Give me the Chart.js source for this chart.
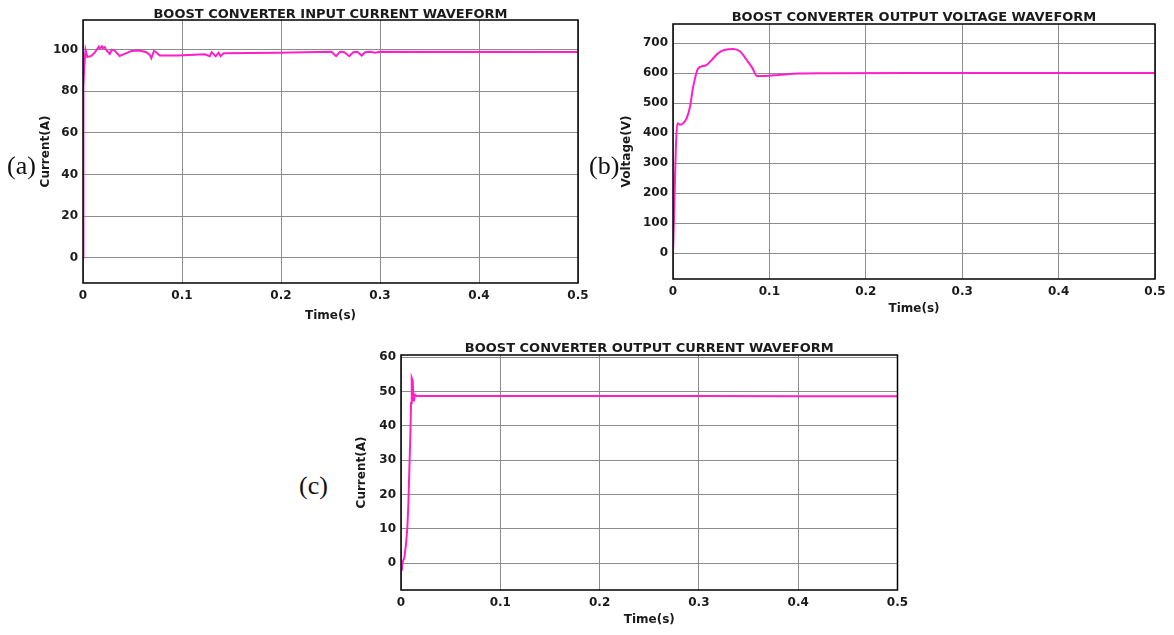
<!DOCTYPE html>
<html>
<head>
<meta charset="utf-8">
<script src="https://cdn.jsdelivr.net/npm/chart.js@4/dist/chart.umd.min.js"></script>
<style>
  body { margin: 0; background: #fff; width: 1174px; height: 635px; position: relative; overflow: hidden; }
  canvas { position: absolute; }
  .tag { position: absolute; font-family: 'Liberation Serif', serif; font-size: 26px; color: #111; line-height: 1; }
</style>
</head>
<body>
<canvas id="chartA" width="600" height="325" style="left:0;top:0;width:600px;height:325px"></canvas>
<canvas id="chartB" width="584" height="316" style="left:590px;top:0;width:584px;height:316px"></canvas>
<canvas id="chartC" width="588" height="297" style="left:330px;top:330px;width:588px;height:297px"></canvas>
<div class="tag" style="left:7px;top:153px">(a)</div>
<div class="tag" style="left:589px;top:153px">(b)</div>
<div class="tag" style="left:299px;top:473px">(c)</div>
<script>
// shared x ticks
const timeTicks = [0, 0.1, 0.2, 0.3, 0.4, 0.5];

// (a) input current
const timeA = [0, 0.0004, 0.0012, 0.0025, 0.0044, 0.0084, 0.0118, 0.015, 0.016, 0.017, 0.018, 0.019, 0.020,
    0.021, 0.022, 0.023, 0.024, 0.027, 0.029, 0.032, 0.037, 0.042, 0.0488, 0.057, 0.064, 0.0674, 0.069,
    0.0717, 0.074, 0.0775, 0.096, 0.123, 0.128, 0.130, 0.134, 0.137, 0.139, 0.142, 0.197, 0.251, 0.2556,
    0.2596, 0.264, 0.269, 0.273, 0.277, 0.2815, 0.285, 0.29, 0.295, 0.30, 0.5];
const currentA = [0, 82, 91, 100, 96.5, 97, 98.6, 100.8, 101.5, 100.6, 101, 101.6, 100.7,
    101.2, 101.3, 100.2, 99.6, 98, 100, 99.6, 97, 98, 99.4, 99.6, 98.8, 97.5, 95.9,
    99.4, 98.8, 97.2, 97.2, 97.8, 96.9, 98.8, 96.9, 98.6, 96.9, 98.3, 98.5, 99.0, 96.9,
    99, 98.8, 96.9, 98.8, 99, 97.2, 98.8, 99, 98.6, 99, 98.9];
const currentTicksA = [0, 20, 40, 60, 80, 100];

// (b) output voltage
const timeB = [0, 0.0045, 0.0073, 0.0107, 0.0142, 0.0177, 0.021, 0.0263, 0.0315, 0.035, 0.0402, 0.047,
    0.054, 0.0626, 0.0696, 0.0765, 0.0824, 0.0869, 0.0955, 0.109, 0.13, 0.158, 0.25, 0.35, 0.5];
const voltageB = [0, 433, 428, 433, 450, 489, 556, 617, 624, 628, 644, 667,
    678, 681, 672, 644, 617, 591, 591, 594, 599, 600, 601, 601, 601];
const voltageTicks = [0, 100, 200, 300, 400, 500, 600, 700];

// (c) output current
const timeC = [0, 0.001, 0.002, 0.0034, 0.005, 0.0064, 0.0074, 0.0084, 0.0094, 0.0101, 0.0108, 0.0113,
    0.0118, 0.0125, 0.013, 0.0141, 0.016, 0.1, 0.2, 0.3, 0.4, 0.5];
const currentC = [0, -0.8, 0.6, 1.6, 5.5, 10.4, 17.1, 27, 36.8, 46.6, 53.9, 53.5,
    52.9, 48, 47.1, 49, 48.7, 48.7, 48.7, 48.7, 48.6, 48.6];
const currentTicksC = [0, 10, 20, 30, 40, 50, 60];

Chart.defaults.font.family = "'DejaVu Sans', sans-serif";
Chart.defaults.font.weight = 'bold';
Chart.defaults.color = '#1a1a1a';

// full box round the plot area, like the matlab axes
const boxPlugin = {
    id: 'box',
    afterDraw(chart) {
        const { ctx, chartArea: a } = chart;
        ctx.save();
        ctx.strokeStyle = '#000';
        ctx.lineWidth = 1.5;
        ctx.strokeRect(a.left, a.top, a.right - a.left, a.bottom - a.top);
        ctx.restore();
    }
};

function makeChart(id, cfg) {
    const points = cfg.times.map((t, i) => ({ x: t, y: cfg.values[i] }));
    new Chart(document.getElementById(id), {
        type: 'line',
        data: {
            datasets: [{
                data: points,
                borderColor: '#ff1fc8',
                borderWidth: 2,
                pointRadius: 0,
                tension: cfg.smooth ? 0.4 : 0,
                cubicInterpolationMode: cfg.smooth ? 'monotone' : 'default'
            }]
        },
        options: {
            responsive: false,
            animation: false,
            layout: { padding: cfg.pad },
            plugins: {
                legend: { display: false },
                tooltip: { enabled: false },
                title: {
                    display: true,
                    text: cfg.title,
                    fullSize: false,
                    padding: { top: 0, bottom: cfg.titleGap },
                    font: { size: 13, weight: 'bold', lineHeight: 0.8 }
                }
            },
            scales: {
                x: {
                    type: 'linear',
                    min: 0,
                    max: 0.5,
                    afterBuildTicks: s => { s.ticks = timeTicks.map(v => ({ value: v })); },
                    afterFit: s => { s.height = cfg.xAxisH; },
                    grid: { color: '#8c8c8c', drawTicks: false },
                    border: { display: false },
                    ticks: { padding: 6, font: { size: 12 }, callback: v => String(v), maxRotation: 0 },
                    title: { display: true, text: 'Time(s)', padding: { top: 0, bottom: 0 }, font: { size: 12, lineHeight: 1.2 } }
                },
                y: {
                    min: cfg.yMin,
                    max: cfg.yMax,
                    afterBuildTicks: s => { s.ticks = cfg.yTicks.map(v => ({ value: v })); },
                    afterFit: s => { s.width = cfg.yAxisW; },
                    grid: { color: '#8c8c8c', drawTicks: false },
                    border: { display: false },
                    ticks: { padding: 5, font: { size: 12 } },
                    title: { display: true, text: cfg.yTitle, padding: { top: 0, bottom: 0 }, font: { size: 12, lineHeight: 1.2 } }
                }
            }
        },
        plugins: [boxPlugin]
    });
}

makeChart('chartA', {
    times: timeA, values: currentA, yTicks: currentTicksA,
    yMin: -12.2, yMax: 114.3,
    title: 'BOOST CONVERTER INPUT CURRENT WAVEFORM', yTitle: 'Current(A)',
    pad: { left: 39, right: 22, top: 9.6, bottom: 2 }, titleGap: 0,
    yAxisW: 44, xAxisH: 40
});

makeChart('chartB', {
    times: timeB, values: voltageB, yTicks: voltageTicks,
    yMin: -86, yMax: 764, smooth: true,
    title: 'BOOST CONVERTER OUTPUT VOLTAGE WAVEFORM', yTitle: 'Voltage(V)',
    pad: { left: 30, right: 19, top: 12.8, bottom: 0 }, titleGap: 0.8,
    yAxisW: 53, xAxisH: 37
});

makeChart('chartC', {
    times: timeC, values: currentC, yTicks: currentTicksC,
    yMin: -7.8, yMax: 60.6,
    title: 'BOOST CONVERTER OUTPUT CURRENT WAVEFORM', yTitle: 'Current(A)',
    pad: { left: 25, right: 20.5, top: 13.5, bottom: 0 }, titleGap: 1.1,
    yAxisW: 46, xAxisH: 37
});
</script>
</body>
</html>
